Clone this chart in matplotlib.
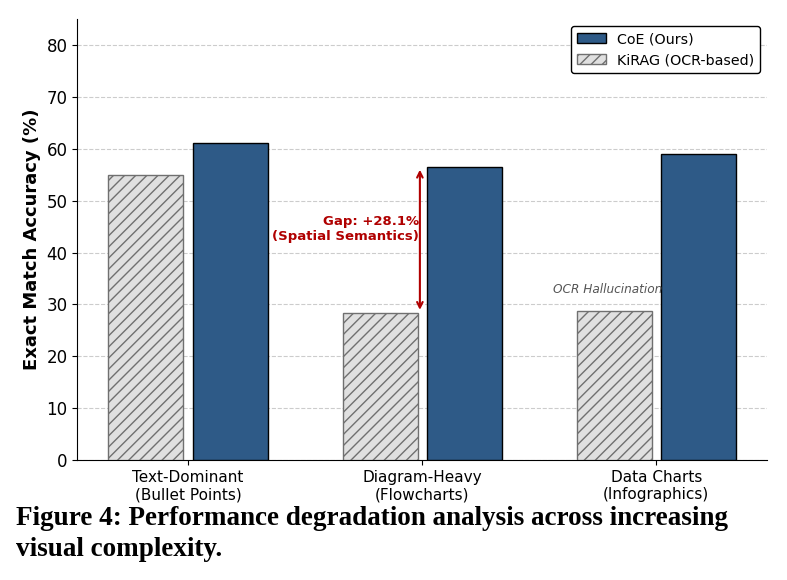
import numpy as np
import matplotlib
matplotlib.use('Agg')
from matplotlib import pyplot as plt

categories = ['Text-Dominant\n(Bullet Points)', 'Diagram-Heavy\n(Flowcharts)', 'Data Charts\n(Infographics)']
coe = [61.2, 56.5, 59.0]
kirag = [55.0, 28.4, 28.7]

fig = plt.figure(figsize=(7.87, 5.80), dpi=100)
ax = fig.add_axes([0.098, 0.207, 0.877, 0.760])

x = np.arange(len(categories))
w = 0.32
ax.bar(x + 0.18, coe, w, color='#2e5a87', edgecolor='black', linewidth=1.0,
       label='CoE (Ours)', zorder=3)
ax.bar(x - 0.18, kirag, w, color='#e0e0e0', edgecolor='#707070', hatch='///',
       linewidth=1.0, label='KiRAG (OCR-based)', zorder=3)

ax.set_ylim(0, 85)
ax.set_yticks(range(0, 90, 10))
ax.set_xticks(x)
ax.set_xticklabels(categories, fontsize=11)
ax.tick_params(axis='y', labelsize=12)
ax.set_ylabel('Exact Match Accuracy (%)', fontsize=13, fontweight='bold')
ax.grid(axis='y', linestyle='--', color='#cccccc', linewidth=0.8, zorder=0)
ax.spines['top'].set_visible(False)
ax.spines['right'].set_visible(False)

# gap annotation
ax.annotate('', xy=(0.99, coe[1]), xytext=(0.99, kirag[1]),
            arrowprops=dict(arrowstyle='<->', color='#b00000', lw=1.5))
ax.text(0.985, 44.5, 'Gap: +%.1f%%\n(Spatial Semantics)' % (coe[1] - kirag[1]),
        color='#b00000', fontsize=9.5, fontweight='bold', ha='right', va='center')
ax.text(1.79, kirag[2] + 3, 'OCR Hallucination', fontsize=8.7, style='italic',
        color='#555555', ha='center', va='bottom')

leg = ax.legend(loc='upper right', fontsize=10.3, frameon=True, fancybox=True,
                edgecolor='black', framealpha=1)

fig.text(0.02, 0.079, 'Figure 4: Performance degradation analysis across increasing\nvisual complexity.',
         fontsize=19.5, fontweight='bold', family='Liberation Serif', ha='left', va='center',
         linespacing=1.3)

fig.savefig('out.png', dpi=100)
